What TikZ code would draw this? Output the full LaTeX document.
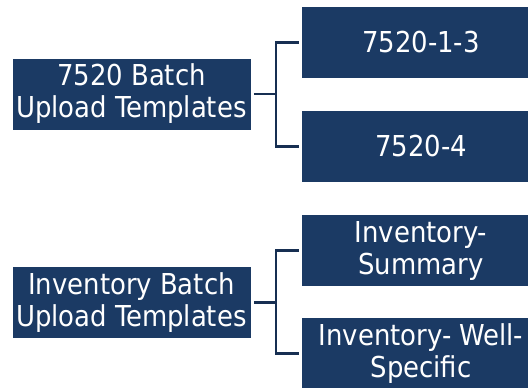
\documentclass[tikz,border=0pt]{standalone}
\usepackage{fontspec}
\setmainfont{DejaVu Sans Condensed}
\definecolor{navy}{HTML}{1B3A64}
\definecolor{linenavy}{HTML}{172F52}
\tikzset{
  box/.style={rectangle, fill=navy, draw=none, text=white, align=center,
    minimum width=238*0.75pt, minimum height=71*0.75pt, inner sep=0pt,
    font=\fontsize{21.6pt}{24pt}\selectfont},
  link/.style={draw=linenavy, line width=1.6pt},
  stub/.style={draw=linenavy, line width=2pt}
}
\begin{document}
\begin{tikzpicture}[x=0.75pt,y=-0.75pt]
\useasboundingbox (0,0) rectangle (528,387);
\begin{scope}
\clip (0,0) rectangle (528,387);
\node[box] (a) at (131.5,94) {7520 Batch\\Upload Templates};
\node[box] (b) at (421,42.5) {7520-1-3};
\node[box] (c) at (421,146.5) {7520-4};
\node[box] (d) at (131.5,302.5) {Inventory Batch\\Upload Templates};
\node[box] (e) at (421,250.5) {Inventory-\\Summary};
\node[box] (f) at (421,353.5) {Inventory- Well-\\Specific};
\end{scope}
\coordinate (j1) at (276,94);
\coordinate (j2) at (276,302.5);
\draw[link] ([xshift=-2.25pt]b.west) -| (j1) |- ([xshift=-2.25pt]c.west);
\draw[stub] ([xshift=2.25pt]a.east) -- (j1);
\draw[link] ([xshift=-2.25pt]e.west) -| (j2) |- ([xshift=-2.25pt]f.west);
\draw[stub] ([xshift=2.25pt]d.east) -- (j2);
\end{tikzpicture}
\end{document}
